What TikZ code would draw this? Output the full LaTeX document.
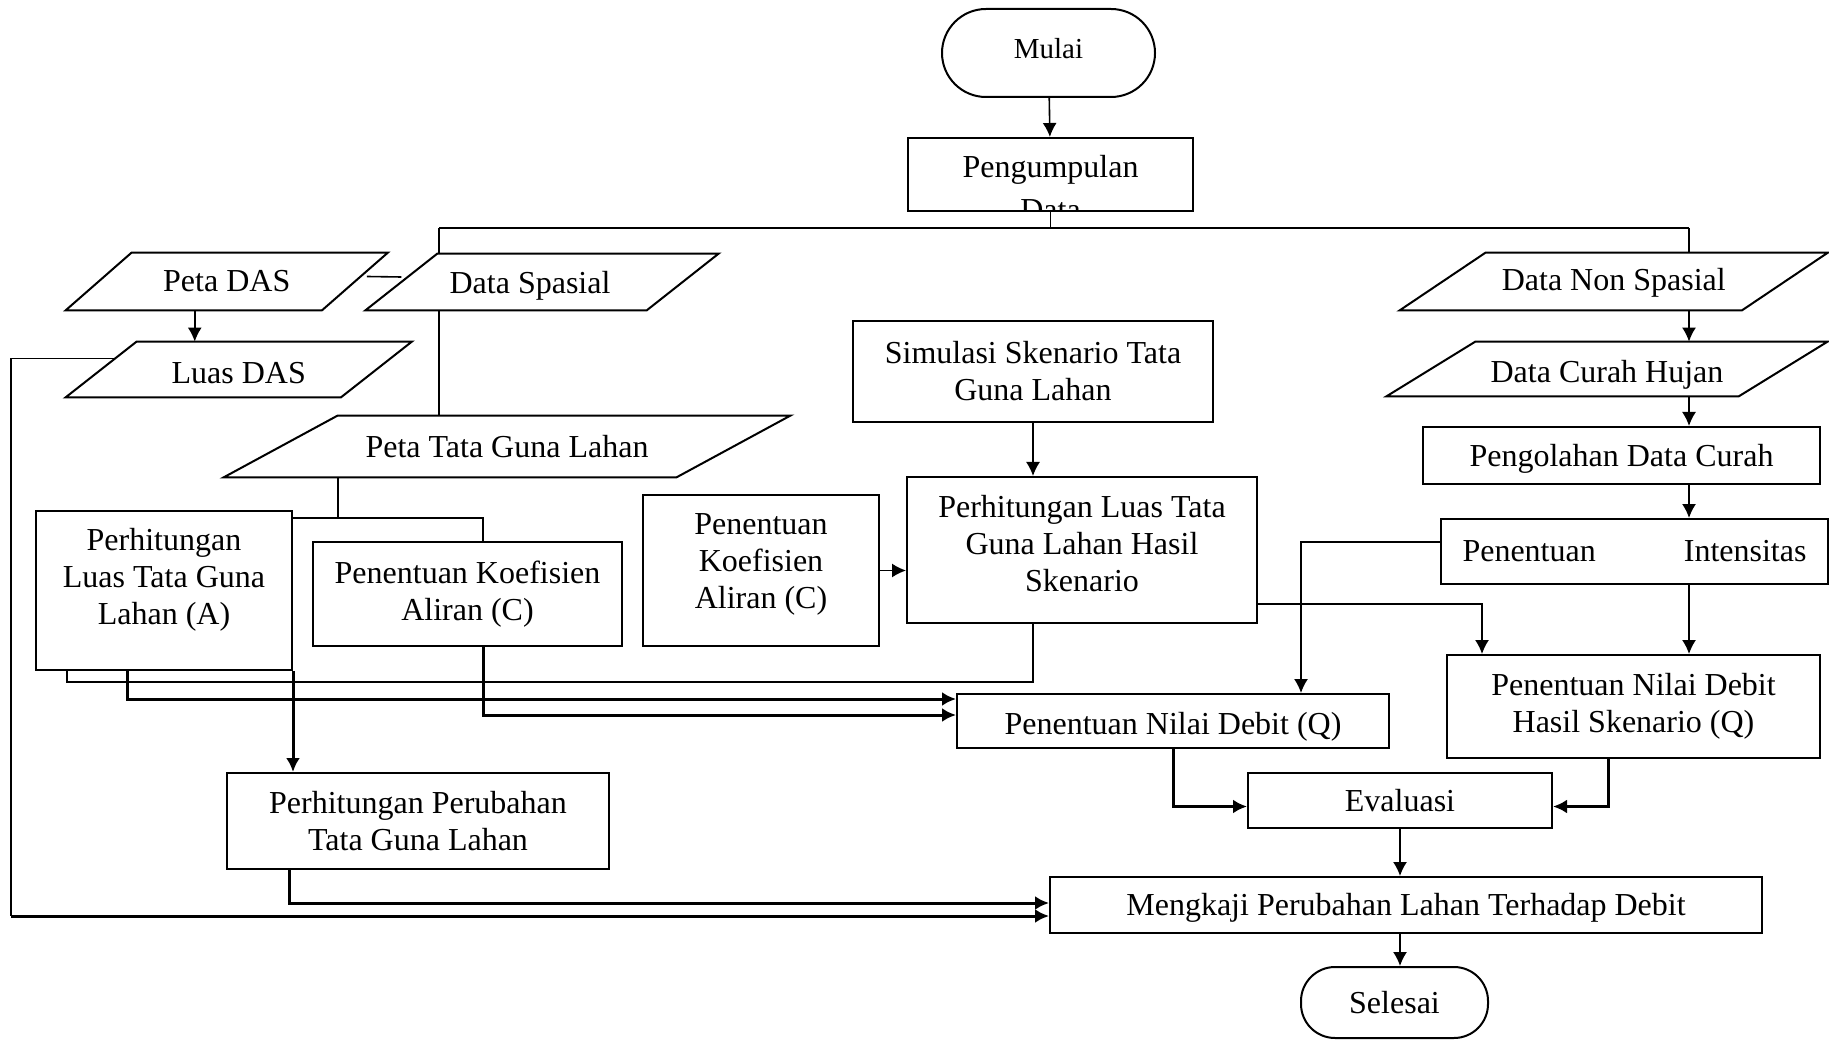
\documentclass[tikz,border=0pt]{standalone}
\usepackage{fontspec}
\setmainfont{Liberation Serif}
\usetikzlibrary{arrows.meta,positioning,calc}

% slanted data box round a named node (optional shift of the outline)
\newcommand{\ioshape}[3][0pt]{\draw[line width=1pt] ([xshift=#3+#1]#2.north west) -- ([xshift=#3+#1]#2.north east) -- ([xshift=-#3+#1]#2.south east) -- ([xshift=-#3+#1]#2.south west) -- cycle;}

\tikzset{
  box/.style={draw, line width=1pt, align=center, inner sep=2pt},
  term/.style={draw, line width=1pt, rounded corners=#1, inner sep=2pt},
  io/.style={inner sep=2pt},
  txt/.style={align=center, inner sep=0pt},
  line/.style={line width=0.8pt},
  arr/.style={line width=0.8pt, -{Latex[length=7pt,width=7pt]}},
  arrT/.style={line width=1.5pt, -{Latex[length=7pt,width=7pt]}}
}

\begin{document}
\begin{tikzpicture}[x=0.5pt, y=-0.5pt, font=\fontsize{16}{18.5}\selectfont]
    \useasboundingbox (0,0) rectangle (1829,1042);

    % Terminal and data collection
    \node[term=22pt, minimum width=106.5pt, minimum height=44pt, text height=10pt, text depth=4.7pt, font=\fontsize{14.5}{17}\selectfont] (mulai) at (1048.5,53) {Mulai};
    \node[box, minimum width=142.5pt, minimum height=36.5pt] (kumpul) at (1050.5,174.5) {};
    \begin{scope}
        \clip (kumpul.south west) rectangle (kumpul.north east);
        \node[txt, anchor=north, font=\fontsize{16}{21.5}\selectfont] (kumpultxt) at ([yshift=-9pt]kumpul.north) {Pengumpulan\\Data};
    \end{scope}

    % Input data
    \node[io, minimum width=127.75pt, minimum height=28.5pt] (petadas) at (226.75,281.5) {Peta DAS};
    \ioshape{petadas}{16.5pt}
    \node[io, minimum width=140.25pt, minimum height=28pt, text height=13pt, text depth=1.6pt] (spasial) at (530,282) {Data Spasial};
    \ioshape[6pt]{spasial}{18pt}
    \node[io, minimum width=137.25pt, minimum height=27.5pt, text height=14.4pt, text depth=0pt] (luasdas) at (238.75,369.5) {Luas DAS};
    \ioshape{luasdas}{17.75pt}
    \node[io, minimum width=226pt, minimum height=30.5pt] (tgl) at (507,446.5) {Peta Tata Guna Lahan};
    \ioshape{tgl}{28.5pt}
    \node[io, minimum width=170.75pt, minimum height=28.5pt, text height=11pt, text depth=1.6pt] (dns) at (1613.75,281.5) {Data Non Spasial};
    \ioshape{dns}{21.5pt}
    \node[io, minimum width=175.75pt, minimum height=27pt, text height=15pt, text depth=1.6pt] (dch) at (1607,369) {Data Curah Hujan};
    \ioshape{dch}{22.25pt}

    % Process boxes
    \node[box, minimum width=128pt, minimum height=79.5pt] (luasA) at (164,590.5) {};
    \node[txt] (luasAtxt) at ([yshift=5.25pt]luasA.center) {Perhitungan\\Luas Tata Guna\\Lahan (A)};
    \node[box, minimum width=154.5pt, minimum height=52pt] (koefC) at (467.5,594) {Penentuan Koefisien\\Aliran (C)};
    \node[box, minimum width=118pt, minimum height=75.5pt] (koefC2) at (761,570.5) {};
    \node[txt] (koefC2txt) at ([yshift=3pt]koefC2.center) {Penentuan\\Koefisien\\Aliran (C)};
    \node[box, minimum width=180pt, minimum height=50.5pt] (simulasi) at (1033,371.5) {Simulasi Skenario Tata\\Guna Lahan};
    \node[box, minimum width=175pt, minimum height=73pt] (hasilLuas) at (1082,550) {};
    \node[txt] (hasilLuastxt) at ([yshift=3pt]hasilLuas.center) {Perhitungan Luas Tata\\Guna Lahan Hasil\\Skenario};
    \node[box, minimum width=198.5pt, minimum height=28.5pt, text height=12.5pt, text depth=1.6pt] (pengolahan) at (1621.5,455.5) {Pengolahan Data Curah};
    \node[box, minimum width=193.5pt, minimum height=32.5pt, text width=172pt, align=justify] (intensitas) at (1634.5,551.5) {Penentuan \hfill Intensitas};
    \node[box, minimum width=216pt, minimum height=27pt, text height=15.5pt, text depth=1.8pt] (debitQ) at (1173,721) {Penentuan Nilai Debit (Q)};
    \node[box, minimum width=186.5pt, minimum height=51.5pt] (debitHasil) at (1633.5,706.5) {Penentuan Nilai Debit\\Hasil Skenario (Q)};
    \node[box, minimum width=152pt, minimum height=27.5pt] (evaluasi) at (1400,800.5) {Evaluasi};
    \node[box, minimum width=191pt, minimum height=48pt] (perubahan) at (418,821) {Perhitungan Perubahan\\Tata Guna Lahan};
    \node[box, minimum width=356pt, minimum height=28pt, text height=12.5pt, text depth=1.6pt] (mengkaji) at (1406,905) {Mengkaji Perubahan Lahan Terhadap Debit};
    \node[term=17pt, minimum width=93.5pt, minimum height=35.5pt] (selesai) at (1394.5,1002.5) {Selesai};

    % Top bar
    \coordinate (barL) at (439,228);
    \coordinate (barR) at (1689,228);
    \draw[arr] (mulai) -- (kumpul);
    \draw[line] (kumpul.south) -- (kumpul.south |- barL);
    \draw[line] (barL) -- (barR);

    % Spatial branch
    \draw[line] (barL) -- (barL |- spasial.north);
    \draw[line] (barL |- spasial.south) -- (barL |- tgl.north);
    \draw[line] ([xshift=6pt,yshift=2.5pt]petadas.east) -- ([xshift=6pt,yshift=2.5pt]spasial.west);
    \draw[arr] ([xshift=-16pt]petadas.south) -- ([xshift=-16pt]petadas.south |- luasdas.north);
    \coordinate (tglJ) at (338,519);
    \draw[line] (tglJ |- tgl.south) -- (tglJ);
    \draw[line] ([yshift=-4pt]luasA.north east) -| ([xshift=7.75pt]koefC.north);

    % To debit and land change
    \draw[arrT] ([xshift=46pt]luasA.south west) |- ([yshift=11pt]debitQ.west);
    \draw[arrT] ([xshift=7.75pt]koefC.south) |- ([yshift=3pt]debitQ.west);
    \draw[line] ([xshift=16pt]luasA.south west) -- ++(0,11) -| (hasilLuas.south -| simulasi.south);
    \draw[arrT] (luasA.south east) -- (luasA.south east |- perubahan.north);
    \draw[arrT] ([xshift=31.5pt]perubahan.south west) |- ([yshift=1pt]mengkaji.west);
    \coordinate (rail) at (11,916);
    \draw[line] ($([xshift=17.75pt]luasdas.north west)!0.3!([xshift=-17.75pt]luasdas.south west)$) -| (rail);
    \draw[arrT] (rail) -- ([yshift=-5.5pt]mengkaji.west);

    % Scenario
    \draw[arr] (simulasi.south) -- (simulasi.south |- hasilLuas.north);
    \draw[arr] (koefC2.east) -- (koefC2.east -| hasilLuas.west);
    \draw[arr] ([yshift=-27pt]hasilLuas.east) -| ([xshift=18pt]debitHasil.north west);

    % Non spatial branch
    \draw[line] (barR) -- (barR |- dns.north);
    \draw[arr] (barR |- dns.south) -- (barR |- dch.north);
    \draw[arr] (barR |- dch.south) -- (barR |- pengolahan.north);
    \draw[arr] (barR |- pengolahan.south) -- (barR |- intensitas.north);
    \draw[arr] (barR |- intensitas.south) -- (barR |- debitHasil.north);
    \draw[arr] ([yshift=4.75pt]intensitas.west) -| ([xshift=-44.5pt]debitQ.north east);

    % Evaluation and end
    \draw[arrT] (debitQ.south) |- ([yshift=-3pt]evaluasi.west);
    \draw[arrT] ([xshift=-12.75pt]debitHasil.south) |- ([yshift=-3pt]evaluasi.east);
    \draw[arr] (evaluasi.south) -- (evaluasi.south |- mengkaji.north);
    \draw[arr] (evaluasi.south |- mengkaji.south) -- (evaluasi.south |- selesai.north);
\end{tikzpicture}
\end{document}
